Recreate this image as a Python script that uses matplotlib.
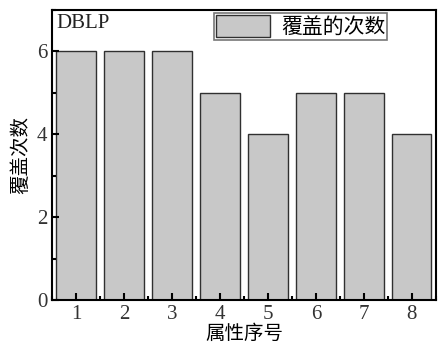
import matplotlib.pyplot as plt
from matplotlib.ticker import MultipleLocator

# coverage count per attribute (DBLP)
attributes = [1, 2, 3, 4, 5, 6, 7, 8]
cover_counts = [6, 6, 6, 5, 4, 5, 5, 4]
legend_label = "覆盖的次数"
dataset_name = "DBLP"

plt.rcParams['font.family'] = ['Liberation Serif', 'Noto Sans CJK SC']
cjk = ['Noto Sans CJK SC', 'DejaVu Sans']

fig = plt.figure(figsize=(4.38, 3.45), dpi=100)
ax = fig.add_axes([0.119, 0.130, 0.876, 0.841])

ax.bar(attributes, cover_counts, width=0.82, color='#c8c8c8',
       edgecolor='#303030', linewidth=1.0, label=legend_label)

ax.set_xlim(0.5, 8.5)
ax.set_ylim(0, 7)
ax.set_xticks(attributes)
ax.yaxis.set_major_locator(MultipleLocator(2))
ax.yaxis.set_minor_locator(MultipleLocator(1))
ax.xaxis.set_minor_locator(MultipleLocator(0.5))

ax.tick_params(which='both', direction='in', width=1.5, colors='black',
               labelcolor='#333333', labelsize=15, top=False, right=False)
ax.tick_params(which='major', length=5)
ax.tick_params(which='minor', length=3)
for side in ax.spines.values():
    side.set_linewidth(1.5)

ax.set_xlabel("属性序号", family=cjk, fontsize=14, labelpad=-1)
ax.set_ylabel("覆盖次数", family=cjk, fontsize=14, labelpad=4)

ax.text(0.012, 0.985, dataset_name, transform=ax.transAxes, ha='left',
        va='top', fontsize=15, color='#222222')

leg = ax.legend(loc='upper left', bbox_to_anchor=(0.414, 1.0), frameon=True,
                fancybox=False, prop={'family': cjk, 'size': 15},
                handlelength=2.6, handleheight=1.2, borderpad=0.1,
                handletextpad=0.5, borderaxespad=0.15)
leg.get_frame().set_edgecolor('#555555')
leg.get_frame().set_linewidth(1.2)

fig.savefig('out.png', dpi=100)
